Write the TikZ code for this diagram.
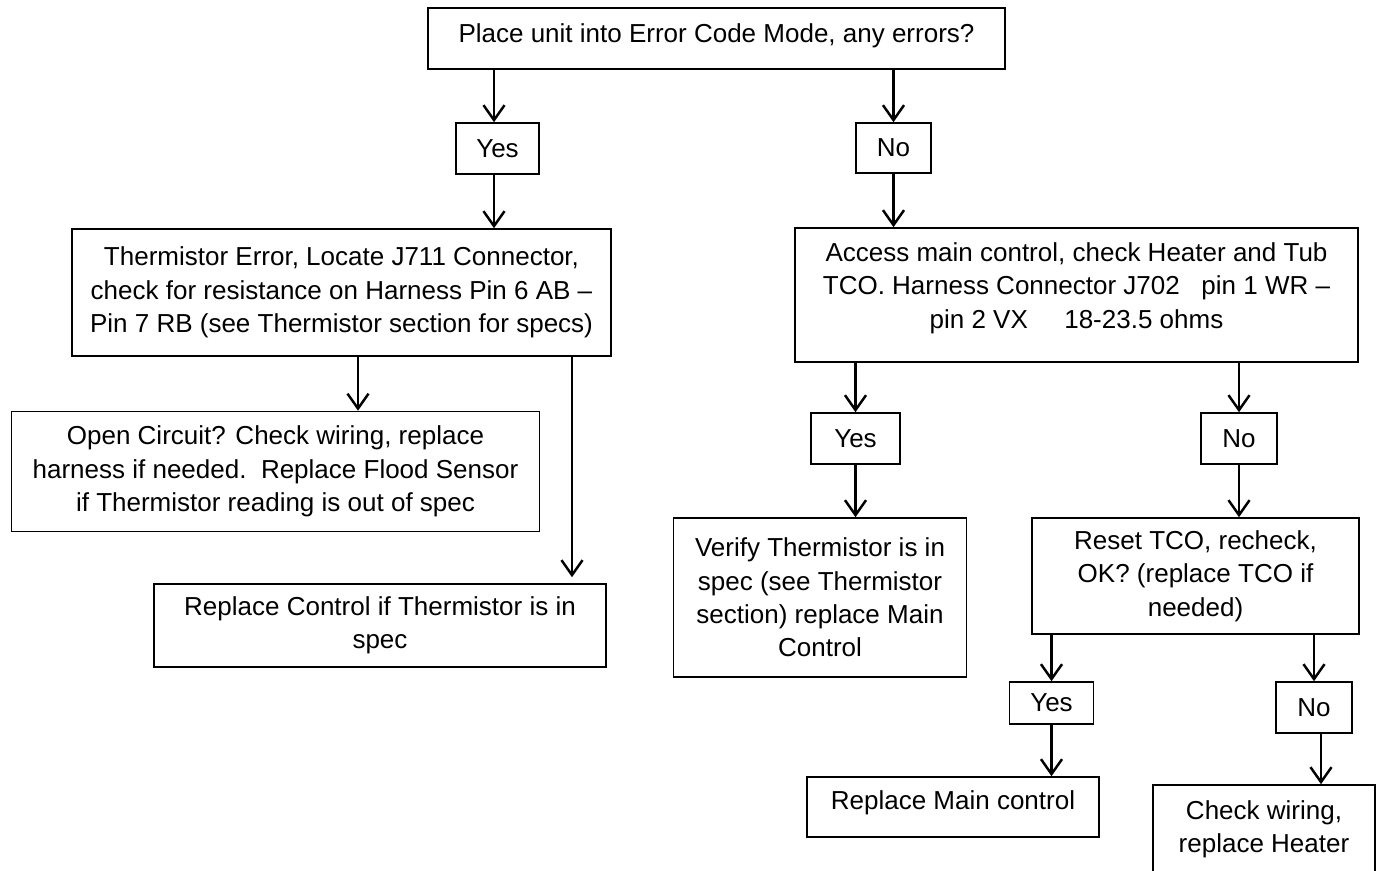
\documentclass[tikz,border=0pt]{standalone}
\usepackage{fontspec}
\setmainfont{Liberation Sans}
\usetikzlibrary{arrows.meta}
\newdimen\px \px=0.02cm

\begin{document}
\begin{tikzpicture}[x=0.02cm, y=-0.02cm,
    box/.style={draw, line width=0.9pt, align=center, inner sep=0pt,
        font=\fontsize{14.8}{19}\selectfont},
    arr/.style={line width=1.4pt, -{Straight Barb[length=8.5pt, width=12pt]}}]
    \clip (0,0) rectangle (1379,871);

    % 顶部问题
    \node[box, minimum width=577\px, minimum height=61\px] (start) at (716.5,38.5)
        {Place unit into Error Code Mode, any errors?\\[-23\px]\mbox{}};
    \node[box, minimum width=83\px, minimum height=51\px] (yesA) at (497.5,148.5) {Yes};
    \node[box, minimum width=75\px, minimum height=50\px] (noA) at (893.5,148) {No};

    % 左侧: 热敏电阻错误
    \node[box, minimum width=539\px, minimum height=127\px] (therm) at (341.5,292.5)
        {Thermistor Error, Locate J711 Connector,\\
         check for resistance on Harness Pin 6 AB –\\
         Pin 7 RB (see Thermistor section for specs)};
    \node[box, minimum width=528\px, minimum height=120\px] (open) at (275.5,471.5)
        {Open Circuit? Check wiring, replace\\
         harness if needed.\ \ Replace Flood Sensor\\
         if Thermistor reading is out of spec};
    \node[box, minimum width=452\px, minimum height=83\px] (repctl) at (380,625.5)
        {Replace Control if Thermistor is in\\ spec};

    % 右侧: 加热器和 TCO
    \node[box, minimum width=563\px, minimum height=134\px] (access) at (1076.5,295)
        {Access main control, check Heater and Tub\\
         TCO. Harness Connector J702\ \ \ pin 1 WR –\\
         pin 2 VX\hspace{1.4em}18-23.5 ohms\\[-14\px]\mbox{}};
    \node[box, minimum width=89\px, minimum height=51\px] (yesB) at (855.5,438.5) {Yes};
    \node[box, minimum width=76\px, minimum height=51\px] (noB) at (1239,438.5) {No};
    \node[box, minimum width=293\px, minimum height=159\px] (verify) at (820,597.5)
        {Verify Thermistor is in\\ spec (see Thermistor\\ section) replace Main\\ Control};
    \node[box, minimum width=327\px, minimum height=116\px] (reset) at (1195.5,576)
        {Reset TCO, recheck,\\ OK? (replace TCO if\\ needed)};
    \node[box, minimum width=84\px, minimum height=42\px] (yesC) at (1051.5,703) {Yes};
    \node[box, minimum width=76\px, minimum height=51\px] (noC) at (1314,707.5) {No};
    \node[box, minimum width=292\px, minimum height=60\px] (repmain) at (953,807)
        {Replace Main control\\[-20\px]\mbox{}};
    \node[box, minimum width=222\px, minimum height=100\px] (wiring) at (1264,835)
        {Check wiring,\\ replace Heater\\[-16\px]\mbox{}};

    % 箭头
    \draw[arr] (start.south -| 494,0) -- (yesA.north -| 494,0);
    \draw[arr] (start.south -| noA) -- (noA.north);
    \draw[arr] (yesA.south -| 494,0) -- (therm.north -| 494,0);
    \draw[arr] (noA) -- (access.north -| noA);
    \draw[arr] (therm.south -| 358,0) -- (open.north -| 358,0);
    \draw[arr] (therm.south -| 572,0) -- ([yshift=6\px]repctl.north -| 572,0);
    \draw[arr] (access.south -| yesB) -- (yesB);
    \draw[arr] (access.south -| noB) -- (noB);
    \draw[arr] (yesB) -- (verify.north -| yesB);
    \draw[arr] (noB) -- (reset.north -| noB);
    \draw[arr] (reset.south -| yesC) -- (yesC);
    \draw[arr] (reset.south -| noC) -- (noC);
    \draw[arr] (yesC) -- (repmain.north -| yesC);
    \draw[arr] (noC.south -| 1321,0) -- (wiring.north -| 1321,0);
\end{tikzpicture}
\end{document}
